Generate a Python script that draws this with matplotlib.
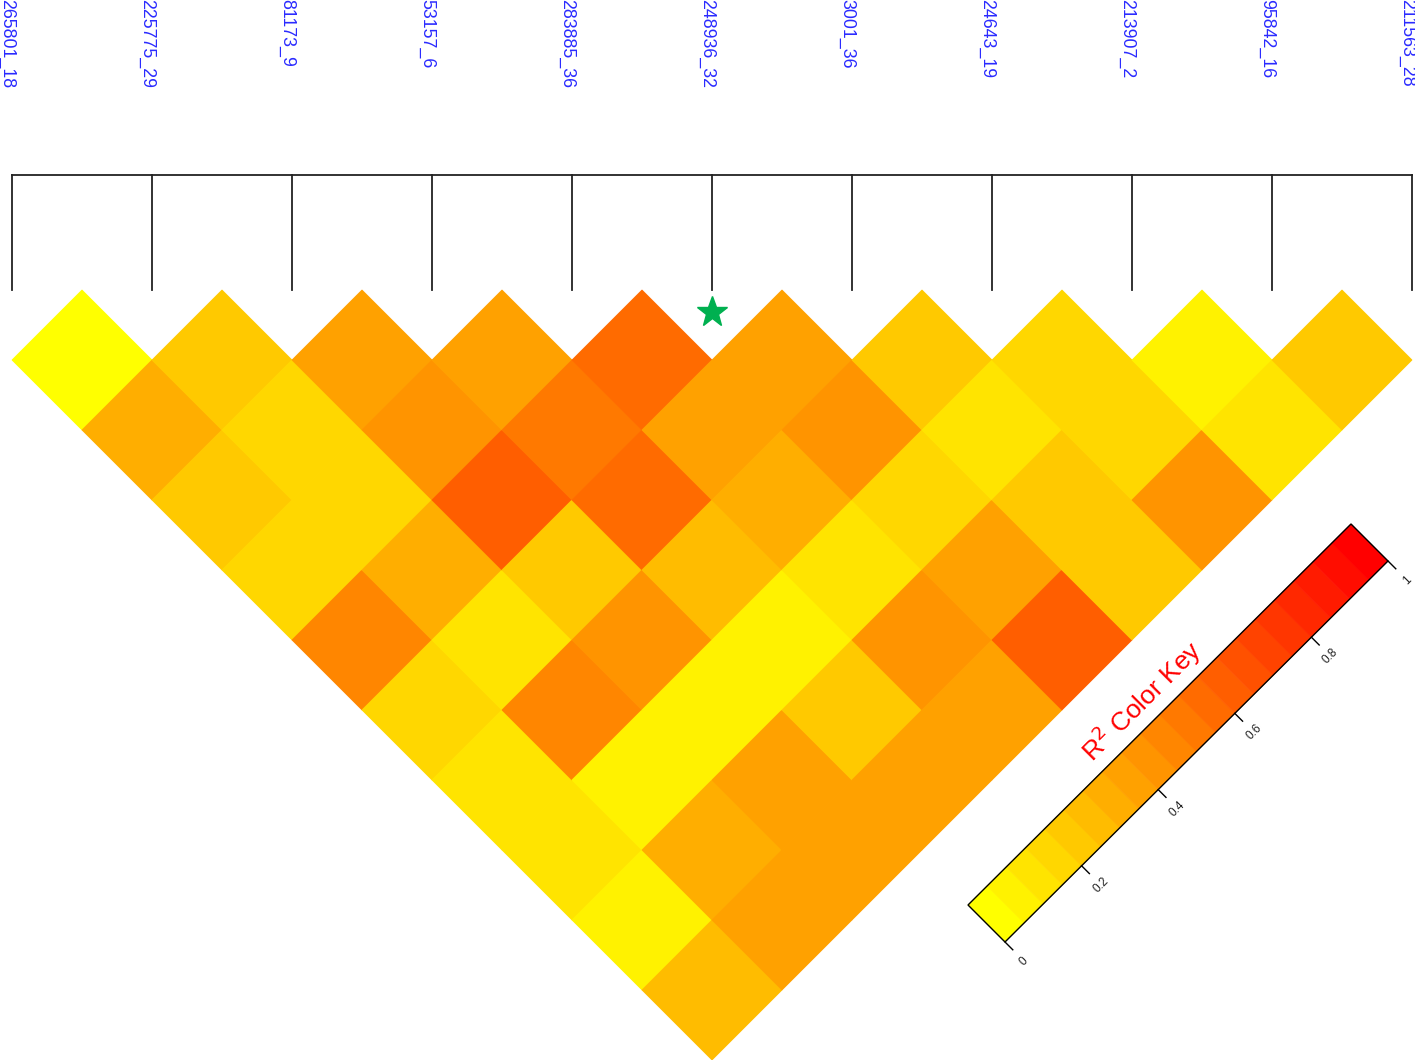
import numpy as np
import matplotlib
matplotlib.use("Agg")
import matplotlib.pyplot as plt
from matplotlib.patches import Polygon
from matplotlib.colors import ListedColormap

snp_names = ["265801_18", "225775_29", "81173_9", "53157_6", "283885_36",
             "248936_32", "3001_36", "24643_19", "213907_2", "95842_16",
             "211563_28"]

# r2 between snp i and the snps after it (j = i+1 .. 10)
r2_rows = [
    [0.02, 0.30, 0.22, 0.17, 0.48, 0.18, 0.13, 0.13, 0.05, 0.25],
    [0.22, 0.18, 0.17, 0.32, 0.12, 0.48, 0.05, 0.30, 0.35],
    [0.35, 0.42, 0.62, 0.20, 0.40, 0.05, 0.35, 0.35],
    [0.35, 0.52, 0.57, 0.25, 0.05, 0.20, 0.35],
    [0.58, 0.35, 0.33, 0.12, 0.40, 0.35],
    [0.35, 0.42, 0.17, 0.35, 0.62],
    [0.22, 0.12, 0.22, 0.22],
    [0.18, 0.18, 0.40],
    [0.05, 0.13],
    [0.22],
]

key_ticks = [0, 0.2, 0.4, 0.6, 0.8, 1]
highlight_snp = 5
n_colors = 20

# yellow -> red ramp, 20 steps
ramp = np.zeros((n_colors, 3))
ramp[:, 0] = 1.0
ramp[:, 1] = np.linspace(1.0, 0.0, n_colors)
cmap = ListedColormap(ramp)

W, H = 1415, 1060
x0, step, top = 12, 140, 290
half = step / 2

fig = plt.figure(figsize=(W / 100, H / 100), dpi=100)
ax = fig.add_axes([0, 0, 1, 1])
ax.set_xlim(0, W)
ax.set_ylim(H, 0)
ax.axis("off")


def snp_x(i):
    return x0 + step * i


def color_for(v):
    k = min(int(v * n_colors), n_colors - 1)
    return cmap(k)


# ld diamonds
for i, row in enumerate(r2_rows):
    for k, v in enumerate(row):
        j = i + 1 + k
        cx = (snp_x(i) + snp_x(j)) / 2
        cy = top + half * (j - i)
        pts = [(cx - half, cy), (cx, cy - half), (cx + half, cy), (cx, cy + half)]
        c = color_for(v)
        ax.add_patch(Polygon(pts, closed=True, facecolor=c, edgecolor=c, lw=0.6))

# snp position lines
line_y = 175
ax.plot([snp_x(0), snp_x(len(snp_names) - 1)], [line_y, line_y], color="#222222", lw=1.3)
for i, name in enumerate(snp_names):
    ax.plot([snp_x(i), snp_x(i)], [line_y, top], color="#222222", lw=1.3)
    ax.text(snp_x(i) - 5, -1, name, rotation=-90, rotation_mode="anchor",
            ha="left", va="center", color="#2a2aff", fontsize=12.8,
            family="Liberation Sans")

ax.plot([snp_x(highlight_snp)], [top + 22], marker="*", markersize=23,
        color="#00b050", markeredgecolor="#00b050", linestyle="none")

# color key, drawn along a 45 degree strip
origin = np.array([968.0, 905.0])
along = np.array([383.0, -381.0])
across = np.array([37.0, 37.0])
for k in range(n_colors):
    t0, t1 = k / n_colors, (k + 1) / n_colors
    pts = [origin + along * t0, origin + along * t1,
           origin + along * t1 + across, origin + along * t0 + across]
    ax.add_patch(Polygon(pts, closed=True, facecolor=cmap(k), edgecolor=cmap(k), lw=0.5))
frame = [origin, origin + along, origin + along + across, origin + across]
ax.add_patch(Polygon(frame, closed=True, facecolor="none", edgecolor="black", lw=1.0))

unit_b = across / np.linalg.norm(across)
for t in key_ticks:
    p = origin + across + along * t
    q = p + unit_b * 11
    ax.plot([p[0], q[0]], [p[1], q[1]], color="black", lw=1.0)
    lp = p + unit_b * 27
    ax.text(lp[0], lp[1], f"{t:g}", rotation=45, ha="center", va="center",
            fontsize=8.5, family="Liberation Sans", color="#222222")

mid = origin + along * 0.495 - unit_b * 22
ax.text(mid[0], mid[1], r"R$^2$ Color Key", rotation=45, ha="center", va="center",
        fontsize=19, color="red", family="Liberation Sans")

fig.savefig("out.png", dpi=100)
